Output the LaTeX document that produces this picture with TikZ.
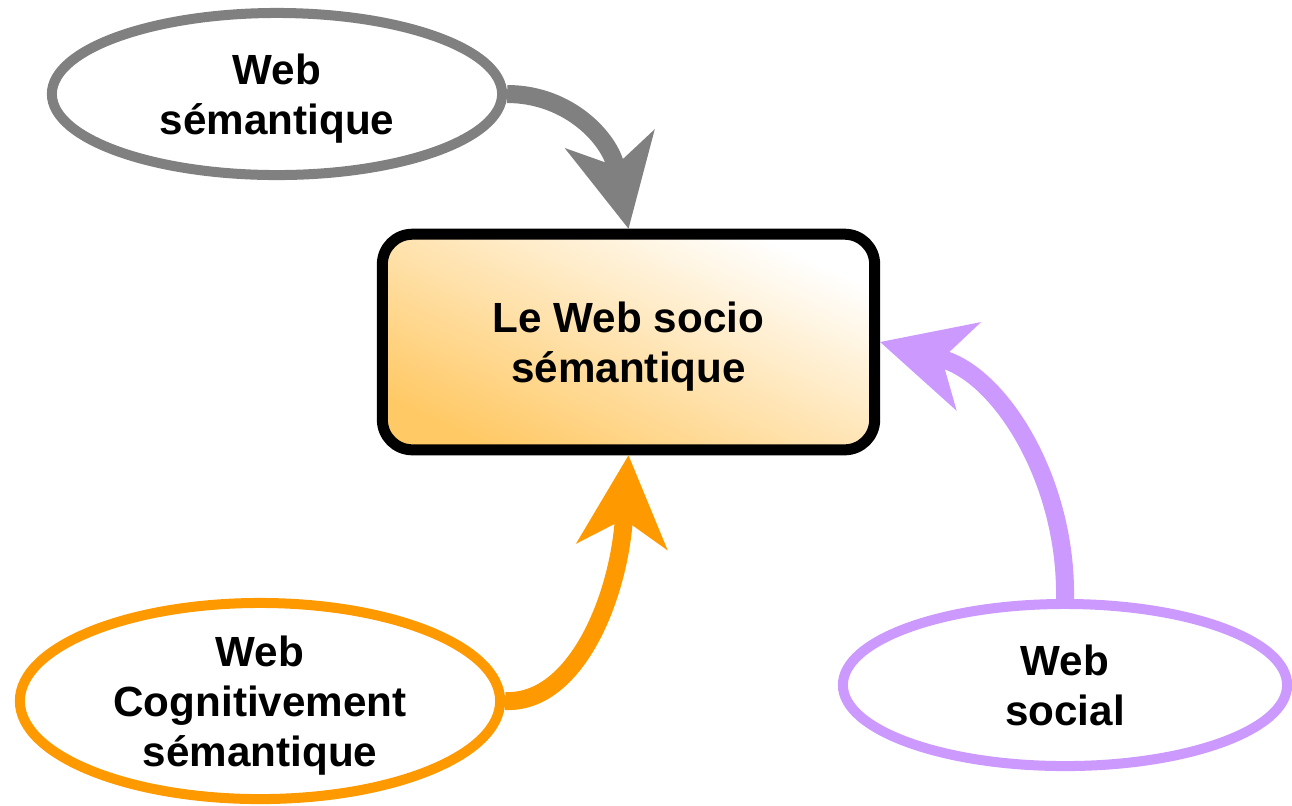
\documentclass[tikz,border=0pt]{standalone}
\usepackage{fontspec}
\setmainfont{Liberation Sans}
\usetikzlibrary{shapes.geometric,arrows.meta}
\definecolor{webgray}{HTML}{808080}
\definecolor{weborange}{HTML}{FF9900}
\definecolor{weblilac}{HTML}{CC99FF}
\definecolor{boxorange}{HTML}{FFC966}
\tikzset{
  lblfont/.style={font=\bfseries\fontsize{12}{14.2}\selectfont, align=center, text depth=0pt},
  bubble/.style={ellipse, draw, fill=white, line width=0.1cm, inner sep=0pt, lblfont},
  centrebox/.style={rectangle, draw=black, line width=0.11cm, rounded corners=0.3cm,
    minimum width=4.92cm, minimum height=2.155cm, lblfont,
    top color=white, bottom color=boxorange, shading angle=-25},
  flow/.style={line width=0.18cm,
    -{Stealth[length=0.92cm, width=0.92cm, inset=0.28cm, line width=0pt]}}
}
\begin{document}
\begin{tikzpicture}[x=0.01cm, y=-0.01cm]
\useasboundingbox (0,0) rectangle (1292,805);

\node[centrebox] (socio) at (628.5,342) {Le Web socio\\sémantique};

\node[bubble, draw=webgray, minimum width=4.5cm, minimum height=1.62cm] (sem) at (277,94) {Web\\sémantique};
\node[bubble, draw=weborange, minimum width=4.8cm, minimum height=1.96cm] (cog) at (260,701) {Web\\Cognitivement\\sémantique};
\node[bubble, draw=weblilac, minimum width=4.44cm, minimum height=1.62cm] (social) at (1065,685) {Web\\social};

\draw[flow, webgray] (sem.east) .. controls (570,94) and (610,140) .. (socio.north);
\draw[flow, weborange] (cog.east) .. controls (575,704) and (618,600) .. (socio.south);
\draw[flow, weblilac] (social.north) .. controls (1067,480) and (1000,375) .. (socio.east);

\end{tikzpicture}
\end{document}
